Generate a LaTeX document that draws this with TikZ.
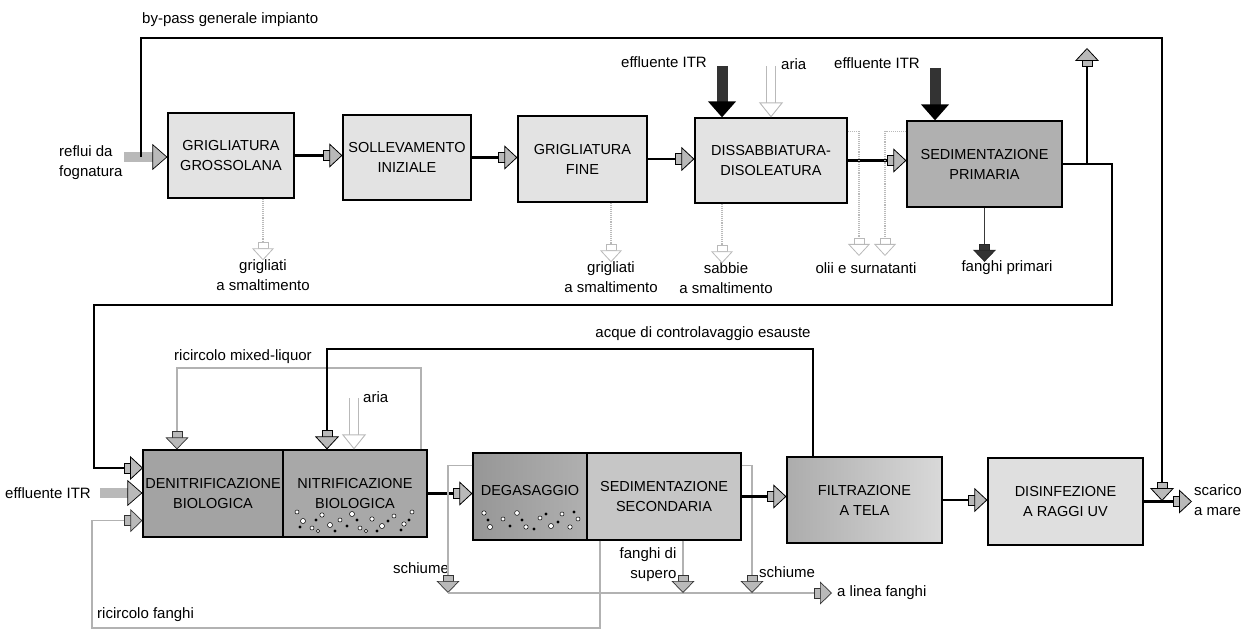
\documentclass[tikz,border=0pt]{standalone}
\usepackage{fontspec}
\setmainfont{Liberation Sans}
\usetikzlibrary{arrows.meta,calc}
\begin{document}
\begin{tikzpicture}[x=1pt,y=-1pt,
  box/.style={draw,line width=1.2pt,align=center,inner sep=0pt,font=\fontsize{14.5}{20}\selectfont},
  lbl/.style={font=\fontsize{15}{20}\selectfont,inner sep=1pt,align=center},
  flow/.style={line width=2.4pt,draw=black,-{Square[length=7pt,width=11pt,line width=0.8pt,color=black,fill=gray!55,sep=-1pt]Triangle[length=13pt,width=24pt,line width=0.8pt,color=black,fill=gray!55]}},
  flowline/.style={line width=2.4pt,draw=black},
  recyc/.style={line width=1.6pt,draw=gray!60,-{Square[length=7pt,width=11pt,line width=0.7pt,color=gray!40!black,fill=gray!55,sep=-1pt]Triangle[length=12pt,width=23pt,line width=0.7pt,color=gray!40!black,fill=gray!55]}},
  dflow/.style={line width=1.6pt,draw=gray!45!black,-{Square[length=7pt,width=11pt,line width=0.7pt,color=gray!30!black,fill=gray!40!black,sep=-1pt]Triangle[length=12pt,width=23pt,line width=0.7pt,color=gray!30!black,fill=gray!40!black]}},
  waste/.style={line width=1.1pt,draw=gray!55,densely dotted,-{Square[length=7pt,width=11pt,line width=0.8pt,color=gray!55,fill=white,sep=-1pt]Triangle[length=12pt,width=22pt,line width=0.8pt,color=gray!55,fill=white]}},
  feed/.style={line width=10pt,draw=gray!55,-{Triangle[length=15pt,width=26pt,line width=0.7pt,color=black,fill=gray!55]}},
  itr/.style={line width=11pt,draw=gray!40!black,-{Triangle[length=16pt,width=27pt,color=black]}},
  air/.style={line width=1.1pt,draw=gray!55,double=white,double distance=8pt,-{Triangle[length=15pt,width=24pt,line width=0.9pt,color=gray!55,fill=white]}},
  bub/.style={draw=black,fill=white,line width=0.5pt}
]
\useasboundingbox (0,0) rectangle (1245,631);

% ---------- top row boxes ----------
\node[box,fill=gray!22,minimum width=126pt,minimum height=85pt] (gg) at (231,155.5) {GRIGLIATURA\\GROSSOLANA};
\node[box,fill=gray!22,minimum width=128pt,minimum height=85pt] (sol) at (407,157.5) {SOLLEVAMENTO\\INIZIALE};
\node[box,fill=gray!22,minimum width=129pt,minimum height=86pt] (gf) at (582.5,159) {GRIGLIATURA\\FINE};
\node[box,fill=gray!22,minimum width=152pt,minimum height=85pt] (dis) at (771,160.5) {DISSABBIATURA-\\DISOLEATURA};
\node[box,fill=gray!62,minimum width=155pt,minimum height=86pt] (sp) at (984.5,164) {SEDIMENTAZIONE\\PRIMARIA};

% ---------- bottom row boxes ----------
\node[box,fill=gray!72,minimum width=140pt,minimum height=87pt] (den) at (213,493.5) {DENITRIFICAZIONE\\BIOLOGICA};
\node[box,fill=gray!68,minimum width=144pt,minimum height=87pt] (nit) at (355,493.5) {NITRIFICAZIONE\\BIOLOGICA};
\node[box,left color=gray!82,right color=gray!62,minimum width=114pt,minimum height=87pt] (deg) at (530,496.5) {};
\node[font=\fontsize{14.5}{20}\selectfont,inner sep=0pt] (degt) at (530,491) {DEGASAGGIO};
\node[box,fill=gray!45,minimum width=154pt,minimum height=87pt] (ss) at (664,496.5) {SEDIMENTAZIONE\\SECONDARIA};
\node[box,left color=gray!65,right color=gray!30,minimum width=155pt,minimum height=86pt] (fil) at (864.5,500) {FILTRAZIONE\\A TELA};
\node[box,fill=gray!25,minimum width=155pt,minimum height=87pt] (uv) at (1065.5,501.5) {DISINFEZIONE\\A RAGGI UV};

% bubbles
\foreach \x/\y/\r in {297/512/2,303/521/2.5,312/528/2,322/515/2.2,330/525/2.5,340/520/2,352/514/2.5,360/528/2,372/519/2.2,382/526/2.5,394/516/2,404/524/2.2,412/512/2,318/531/1.8,366/531/1.8}
  \draw[bub] (\x,\y) circle (\r);
\foreach \x/\y in {300/527,316/520,335/531,347/526,357/520,377/531,388/521,401/530,409/520}
  \fill (\x,\y) circle (1.6);
\foreach \x/\y/\r in {484/513/2.2,490/527/2.5,503/519/2,517/513/2.4,526/527/2.2,540/518/2,551/526/2.5,562/514/2,570/527/2.2,578/519/2}
  \draw[bub] (\x,\y) circle (\r);
\foreach \x/\y in {488/520,510/526,522/520,534/529,546/514,558/522,574/512}
  \fill (\x,\y) circle (1.6);

% ---------- labels ----------
\node[lbl,anchor=west] (lbp) at (141,20) {by-pass generale impianto};
\node[lbl,anchor=west,align=left] (lrf) at (58,163) {reflui da\\fognatura};
\node[lbl] (litr1) at (664,62) {effluente ITR};
\node[lbl,anchor=west] (lair1) at (780,64) {aria};
\node[lbl] (litr2) at (877,63) {effluente ITR};
\node[lbl] (lgg) at (263,275) {grigliati\\a smaltimento};
\node[lbl] (lgf) at (611,277) {grigliati\\a smaltimento};
\node[lbl] (lsab) at (726,278) {sabbie\\a smaltimento};
\node[lbl] (lol) at (866,268) {olii e surnatanti};
\node[lbl] (lfp) at (1007,268) {fanghi primari};
\node[lbl] (lml) at (243,357) {ricircolo mixed-liquor};
\node[lbl,anchor=west] (lair2) at (362,397) {aria};
\node[lbl] (lcb) at (703,334) {acque di controlavaggio esauste};
\node[lbl,anchor=west] (litr3) at (4,493) {effluente ITR};
\node[lbl,anchor=west] (lrf2) at (96,615) {ricircolo fanghi};
\node[lbl] (lsl) at (421,568) {schiume};
\node[lbl,align=right] (lfs) at (648,565) {fanghi di\\supero};
\node[lbl,anchor=west] (lsr) at (758,572) {schiume};
\node[lbl,anchor=west] (llf) at (836,593) {a linea fanghi};
\node[lbl,anchor=west,align=left] (lsc) at (1193,500) {scarico\\a mare};

% ---------- coordinates ----------
\coordinate (rin) at (124,157);
\coordinate (bp) at (141,157);
\coordinate (bptop) at (141,38);
\coordinate (bpright) at (1162,38);
\coordinate (bpend) at (1162,501);
\coordinate (scar) at (1192,502);
\coordinate (r1) at (1112,305);
\coordinate (r2) at (94,305);
\coordinate (d1) at (143,468);
\coordinate (up1) at (1087,164);
\coordinate (up2) at (1087,48);
\coordinate (itr1) at (722,66);
\coordinate (air1) at (771,66);
\coordinate (itr2) at (935,68);
\coordinate (o1) at (859,256);
\coordinate (o2) at (885,256);
\coordinate (feedL) at (100,493);
\coordinate (ml1) at (421,368);
\coordinate (ml2) at (177,368);
\coordinate (cb1) at (813,349);
\coordinate (cb2) at (327,349);
\coordinate (air2) at (354,398);
\coordinate (rf1) at (600,628);
\coordinate (rf2) at (92,628);
\coordinate (sl) at (448,593);
\coordinate (lf) at (832,593);
\coordinate (fs) at (683,593);
\coordinate (sr) at (752,593);

% ---------- top connectors ----------
\draw[feed] (rin) -- (rin -| gg.west);
\draw[flow] (bp) -- (bptop) -- (bpright) -- (bpend);
\draw[flow] (gg.east) -- (gg.east -| sol.west);
\draw[flow] (sol.east) -- (sol.east -| gf.west);
\draw[flow] (gf.east) -- (gf.east -| dis.west);
\draw[flow] (dis.east) -- (dis.east -| sp.west);
\draw[flowline] (sp.east) -| (r1) -- (r2) |- (d1);
\draw[flow] (d1) ++(-25,0) -- (d1);
\draw[flow] (up1) -- (up2);
\draw[itr] (itr1) -- (itr1 |- dis.north);
\draw[air] (air1) -- (air1 |- dis.north);
\draw[itr] (itr2) -- (itr2 |- sp.north);
\draw[waste] (lgg.north |- gg.south) -- ([yshift=-2pt]lgg.north);
\draw[waste] (lgf.north |- gf.south) -- ([yshift=-2pt]lgf.north);
\draw[waste] ([xshift=-4pt]lsab.north |- dis.south) -- ([xshift=-4pt,yshift=-2pt]lsab.north);
\draw[waste] ($(dis.north east)+(0,14)$) -| (o1);
\draw[waste] ($(sp.north west)+(0,11)$) -| (o2);
\draw[dflow] (sp.south) -- ([yshift=-2pt]sp.south |- lfp.north);

% ---------- bottom connectors ----------
\draw[feed] (feedL) -- (feedL -| den.west);
\draw[recyc] (ml1 |- nit.north) -- (ml1) -- (ml2) -- (ml2 |- den.north);
\draw[flow] (cb1 |- fil.north) -- (cb1) -- (cb2) -- (cb2 |- nit.north);
\draw[air] (air2) -- (air2 |- nit.north);
\draw[flow] (nit.east) -- (nit.east -| deg.west);
\draw[recyc] (rf1 |- ss.south) -- (rf1) -- (rf2) |- ($(den.south west)+(0,-17)$);
\draw[recyc] ($(deg.north west)+(0,13)$) -| (sl);
\draw[recyc] (sl |- lf) -- (lf);
\draw[recyc] (fs |- ss.south) -- (fs);
\draw[recyc] ($(ss.north east)+(0,13)$) -| (sr);
\draw[flow] (ss.east) -- (ss.east -| fil.west);
\draw[flow] (fil.east) -- (fil.east -| uv.west);
\draw[flow] (uv.east) -- (uv.east -| scar);
\end{tikzpicture}
\end{document}
